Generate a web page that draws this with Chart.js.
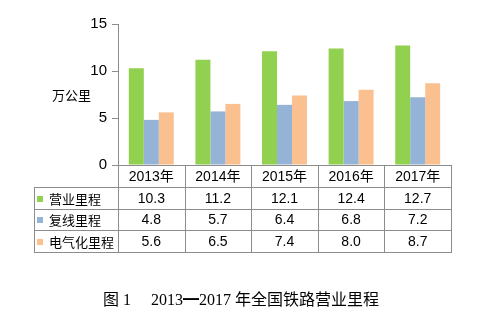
<!DOCTYPE html>
<html>
<head>
<meta charset="utf-8">
<script src="https://cdn.jsdelivr.net/npm/chart.js@4"></script>
<style>
  html, body { margin: 0; padding: 0; background: #fff; }
  #wrap { width: 491px; height: 322px; }
</style>
</head>
<body>
<div id="wrap"><canvas id="rail_chart" width="491" height="322"></canvas></div>
<script>
"use strict";

const years = ["2013年", "2014年", "2015年", "2016年", "2017年"];
const seriesNames = ["营业里程", "复线里程", "电气化里程"];
const operating = [10.3, 11.2, 12.1, 12.4, 12.7];
const doubleTrack = [4.8, 5.7, 6.4, 6.8, 7.2];
const electrified = [5.6, 6.5, 7.4, 8.0, 8.7];
const yTicks = [0, 5, 10, 15];
const unitLabel = "万公里";
const caption = "图 1\u3000 2013\u25012017 年全国铁路营业里程";

const colors = ["#92D050", "#95B3D7", "#FAC090"];
const lineColor = "#8C8C8C";
const numFont = "14px 'Liberation Sans', Arial, 'Noto Sans CJK SC'";
const cjkFont = "13px 'Noto Sans CJK SC', 'Liberation Sans'";

// table under the plot, drawn from the x scale
const tablePlugin = {
	id: "dataTable",
	afterDraw(chart) {
		const c = chart.ctx;
		const x = chart.scales.x;
		const area = chart.chartArea;
		const colW = (area.right - area.left) / years.length;
		const rowTop = [area.bottom, 187, 208.5, 230, 252];
		const tableLeft = 34;
		const allVals = [operating, doubleTrack, electrified];

		c.save();
		c.strokeStyle = lineColor;
		c.lineWidth = 1;
		c.beginPath();
		// horizontal lines
		c.moveTo(area.left, Math.round(rowTop[0]) + 0.5);
		c.lineTo(area.right, Math.round(rowTop[0]) + 0.5);
		for (let r = 1; r < rowTop.length; r++) {
			const y = Math.round(rowTop[r]) + 0.5;
			c.moveTo(tableLeft, y);
			c.lineTo(area.right, y);
		}
		// vertical lines
		c.moveTo(tableLeft + 0.5, Math.round(rowTop[1]) + 0.5);
		c.lineTo(tableLeft + 0.5, Math.round(rowTop[4]) + 0.5);
		for (let i = 0; i <= years.length; i++) {
			const xx = Math.round(area.left + colW * i) + 0.5;
			c.moveTo(xx, Math.round(rowTop[0]));
			c.lineTo(xx, Math.round(rowTop[4]) + 1);
		}
		c.stroke();

		c.fillStyle = "#000";
		c.textBaseline = "middle";
		c.textAlign = "center";
		c.font = numFont;
		years.forEach((yr, i) => {
			c.fillText(yr, x.getPixelForValue(i), (rowTop[0] + rowTop[1]) / 2 + 1);
		});
		for (let r = 0; r < 3; r++) {
			const cy = (rowTop[r + 1] + rowTop[r + 2]) / 2 + 1;
			allVals[r].forEach((v, i) => {
				c.fillText(v.toFixed(1), x.getPixelForValue(i), cy);
			});
			c.fillStyle = colors[r];
			c.fillRect(37, Math.round(cy) - 3, 6, 6);
			c.fillStyle = "#000";
			c.textAlign = "left";
			c.font = cjkFont;
			c.fillText(seriesNames[r], 49, cy);
			c.textAlign = "center";
			c.font = numFont;
		}

		// unit label
		c.font = cjkFont;
		c.textAlign = "left";
		c.fillText(unitLabel, 52, 95);

		// caption
		c.font = "16px 'Liberation Serif', 'Times New Roman', 'Noto Sans CJK SC'";
		c.textAlign = "left";
		c.fillText(caption, 103, 301);
		c.restore();
	},
};

new Chart(document.getElementById("rail_chart"), {
	type: "bar",
	data: {
		labels: years,
		datasets: [
			{ label: seriesNames[0], data: operating, backgroundColor: colors[0] },
			{ label: seriesNames[1], data: doubleTrack, backgroundColor: colors[1] },
			{ label: seriesNames[2], data: electrified, backgroundColor: colors[2] },
		],
	},
	options: {
		responsive: false,
		animation: false,
		layout: { padding: { top: 24, right: 40, bottom: 157, left: 0 } },
		datasets: { bar: { categoryPercentage: 0.675, barPercentage: 1.0 } },
		plugins: {
			legend: { display: false },
			tooltip: { enabled: false },
		},
		scales: {
			x: { display: false },
			y: {
				min: yTicks[0],
				max: yTicks[yTicks.length - 1],
				afterBuildTicks(scale) {
					scale.ticks = yTicks.map((v) => ({ value: v }));
				},
				afterFit(scale) {
					scale.width = 118;
				},
				border: { color: lineColor },
				grid: { drawOnChartArea: false, tickLength: 6, color: lineColor },
				ticks: {
					padding: 5,
					color: "#000",
					font: { family: "'Liberation Sans', Arial", size: 15 },
				},
			},
		},
	},
	plugins: [tablePlugin],
});
</script>
</body>
</html>
